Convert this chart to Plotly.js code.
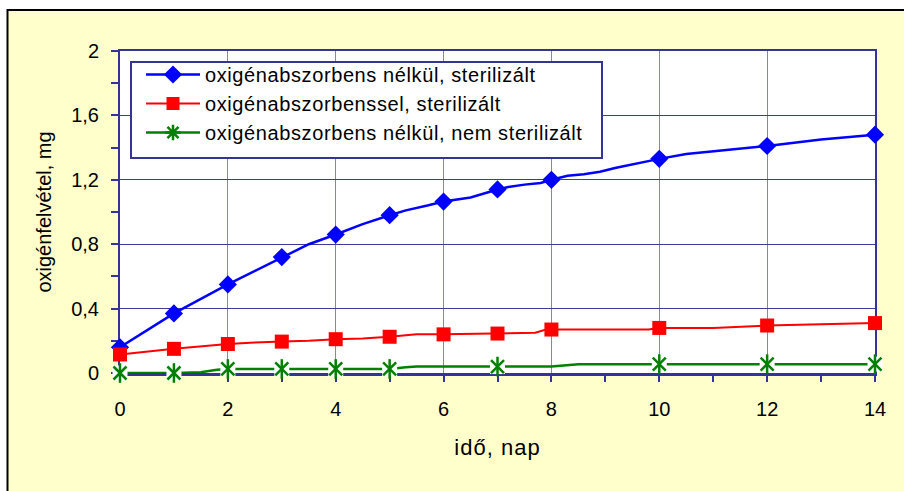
<!DOCTYPE html>
<html>
<head>
<meta charset="utf-8">
<script src="https://cdn.plot.ly/plotly-3.0.1.min.js"></script>
<style>
html,body{margin:0;padding:0;background:#fff;}
#chart{width:904px;height:491px;}
text.legendtext{letter-spacing:0.6px;}
text.xtitle{letter-spacing:1px;}
</style>
</head>
<body>
<div id="chart"></div>
<script>
// ---- data ----
const seriesNames = [
  'oxigénabszorbens nélkül, sterilizált',
  'oxigénabszorbenssel, sterilizált',
  'oxigénabszorbens nélkül, nem sterilizált'
];
// marker days and values
const markerDays = [0, 1, 2, 3, 4, 5, 6, 7, 8, 10, 12, 14];
const blueMarkers = [0.16, 0.37, 0.55, 0.72, 0.86, 0.98, 1.065, 1.14, 1.20, 1.33, 1.41, 1.48];
const redMarkers = [0.115, 0.15, 0.18, 0.195, 0.21, 0.225, 0.24, 0.245, 0.27, 0.28, 0.295, 0.31];
const greenDays = [0, 1, 2, 3, 4, 5, 7, 10, 12, 14];
const greenMarkers = [0, 0, 0.025, 0.025, 0.025, 0.025, 0.04, 0.055, 0.055, 0.055];
// measured line vertices (denser than the markers)
const blueLineDays = [0, 1, 2, 3, 3.5, 4, 4.5, 5, 5.3, 5.7, 6, 6.5, 7, 7.2, 7.5, 7.8, 8, 8.3, 8.6, 8.9, 9.2, 10, 10.5, 12, 13, 14];
const blueLineVals = [0.16, 0.37, 0.55, 0.72, 0.80, 0.86, 0.925, 0.98, 1.01, 1.04, 1.065, 1.09, 1.14, 1.155, 1.17, 1.18, 1.20, 1.225, 1.235, 1.25, 1.275, 1.33, 1.36, 1.41, 1.45, 1.48];
const redLineDays = [0, 1, 2, 2.5, 3, 3.5, 4, 4.5, 5, 5.5, 6, 7, 7.7, 7.9, 8, 9.8, 10, 11, 12, 14];
const redLineVals = [0.115, 0.15, 0.18, 0.19, 0.195, 0.20, 0.21, 0.215, 0.225, 0.24, 0.24, 0.245, 0.25, 0.27, 0.27, 0.27, 0.28, 0.28, 0.295, 0.31];
const greenLineDays = [0, 1, 1.5, 1.8, 2, 5, 5.3, 5.5, 8, 8.5, 14];
const greenLineVals = [0, 0, 0.005, 0.02, 0.025, 0.025, 0.035, 0.04, 0.04, 0.055, 0.055];
// axes
const xTitle = 'idő, nap';
const yTitle = 'oxigénfelvétel, mg';

const BLUE = '#0000ff', RED = '#ff0000', GREEN = '#008000', NAVY = '#333399';
const FONT = '"Liberation Sans", Arial, sans-serif';

const traces = [
  // blue
  {x: blueLineDays, y: blueLineVals, mode: 'lines', line: {color: BLUE, width: 2.5}, showlegend: false, cliponaxis: false, hoverinfo: 'skip'},
  {x: markerDays, y: blueMarkers, mode: 'markers', marker: {symbol: 'diamond', size: 14, color: BLUE}, showlegend: false, cliponaxis: false},
  // red
  {x: redLineDays, y: redLineVals, mode: 'lines', line: {color: RED, width: 2}, showlegend: false, cliponaxis: false, hoverinfo: 'skip'},
  {x: markerDays, y: redMarkers, mode: 'markers', marker: {symbol: 'square', size: 14, color: RED}, showlegend: false, cliponaxis: false},
  // green
  {x: greenLineDays, y: greenLineVals, mode: 'lines', line: {color: GREEN, width: 2.5}, showlegend: false, cliponaxis: false, hoverinfo: 'skip'},
  {x: greenDays, y: greenMarkers, mode: 'markers', marker: {symbol: 'square', size: 15, color: '#ffffff'}, showlegend: false, cliponaxis: false, hoverinfo: 'skip'},
  {x: greenDays, y: greenMarkers, mode: 'markers', marker: {symbol: 'x-thin-open', size: 13, color: GREEN, line: {color: GREEN, width: 2.5}}, showlegend: false, cliponaxis: false},
  {x: greenDays, y: greenMarkers, mode: 'markers', marker: {symbol: 'line-ns-open', size: 14, color: GREEN, line: {color: GREEN, width: 2.5}}, showlegend: false, cliponaxis: false, hoverinfo: 'skip'},
  // legend entries
  {x: [null], y: [null], name: seriesNames[0], mode: 'lines+markers', line: {color: BLUE, width: 2.5}, marker: {symbol: 'diamond', size: 14, color: BLUE}},
  {x: [null], y: [null], name: seriesNames[1], mode: 'lines+markers', line: {color: RED, width: 2}, marker: {symbol: 'square', size: 13, color: RED}},
  {x: [null], y: [null], name: seriesNames[2], mode: 'lines+markers', line: {color: GREEN, width: 2.5}, marker: {symbol: 'asterisk-open', size: 13, color: GREEN, line: {color: GREEN, width: 2.5}}}
];

const L = 120, R = 29, T = 51, B = 118, W = 904, H = 491;
const pw = W - L - R, ph = H - T - B;
const px = v => (v - L) / pw;
const py = v => (H - B - v) / ph;

const layout = {
  width: W, height: H,
  margin: {l: L, r: R, t: T, b: B, pad: 0},
  paper_bgcolor: '#ffffcc',
  plot_bgcolor: '#ffffff',
  font: {family: FONT, size: 20, color: '#000'},
  separators: ', ',
  showlegend: true,
  legend: {
    x: px(130), y: py(55), xanchor: 'left', yanchor: 'top',
    bgcolor: 'rgba(0,0,0,0)', borderwidth: 0,
    font: {family: FONT, size: 20, color: '#000'},
    itemwidth: 54, indentation: 11, tracegroupgap: 0, traceorder: 'normal'
  },
  xaxis: {
    range: [0, 14], tick0: 0, dtick: 2, ticks: 'outside', ticklen: 6, tickwidth: 2, tickcolor: NAVY,
    minor: {dtick: 1, ticks: 'outside', ticklen: 6, tickwidth: 2, tickcolor: NAVY, showgrid: false},
    showgrid: true, gridcolor: '#8484c4', gridwidth: 1,
    showline: true, linecolor: NAVY, linewidth: 2.5, mirror: true, zeroline: false,
    layer: 'below traces', ticklabelstandoff: 10,
    tickfont: {family: FONT, size: 20, color: '#000'},
    title: {text: xTitle, font: {family: FONT, size: 22, color: '#000'}, standoff: 21},
    fixedrange: true
  },
  yaxis: {
    range: [0, 2], tick0: 0, dtick: 0.4, ticks: 'outside', ticklen: 7, tickwidth: 2, tickcolor: NAVY,
    minor: {dtick: 0.2, ticks: 'outside', ticklen: 7, tickwidth: 2, tickcolor: NAVY, showgrid: false},
    showgrid: true, gridcolor: '#3c3c9c', gridwidth: 1,
    showline: true, linecolor: NAVY, linewidth: 2, mirror: true, zeroline: false,
    layer: 'below traces', ticklabelstandoff: 8,
    tickfont: {family: FONT, size: 20, color: '#000'},
    title: {text: yTitle, font: {family: FONT, size: 20, color: '#000'}, standoff: 14},
    fixedrange: true
  },
  shapes: [
    // white margin outside the outer frame
    {type: 'rect', xref: 'paper', yref: 'paper', x0: px(-5), x1: px(7), y0: py(500), y1: py(-5), fillcolor: '#ffffff', line: {width: 0}, layer: 'above'},
    {type: 'rect', xref: 'paper', yref: 'paper', x0: px(-5), x1: px(910), y0: py(10), y1: py(-5), fillcolor: '#ffffff', line: {width: 0}, layer: 'above'},
    // outer frame
    {type: 'rect', xref: 'paper', yref: 'paper', x0: px(7.5), x1: px(920), y0: py(520), y1: py(10), fillcolor: 'rgba(0,0,0,0)', line: {color: '#000', width: 2}, layer: 'above'},
    // legend box
    {type: 'rect', xref: 'paper', yref: 'paper', x0: px(131), x1: px(602), y0: py(158), y1: py(62), fillcolor: '#ffffff', line: {color: NAVY, width: 2}, layer: 'above'}
  ]
};

Plotly.newPlot('chart', traces, layout, {displayModeBar: false, staticPlot: true});
</script>
</body>
</html>
